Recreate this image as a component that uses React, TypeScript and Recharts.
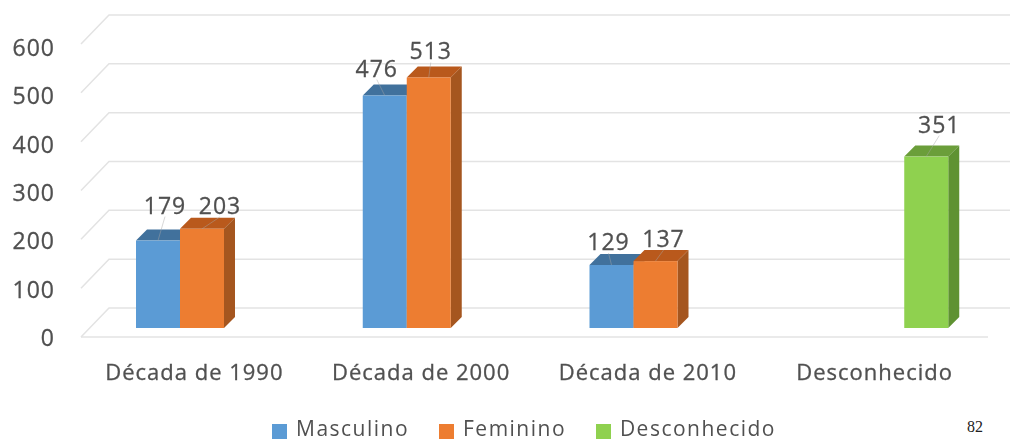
import React from "react"
import { BarChart, Bar, XAxis, YAxis, CartesianGrid, Legend, LabelList, ReferenceLine } from "recharts"

const categories = ["Década de 1990", "Década de 2000", "Década de 2010", "Desconhecido"]
const masculino = [179, 476, 129, null]
const feminino = [203, 513, 137, null]
const desconhecido = [null, null, null, 351]
const yTicks = [0, 100, 200, 300, 400, 500, 600]

const data = categories.map((name, i) => ({
  name,
  Masculino: masculino[i],
  Feminino: feminino[i],
  Desconhecido: desconhecido[i],
}))

const FONT = "'Open Sans', sans-serif"
const TEXT = "#505050"
const GRID = "#e3e3e3"
// the excel 3d look: bars sit off the axis plane, and have a depth
const DEPTH = 11
const SHIFT_X = 8
const SHIFT_Y = -9
const WALL_X = 28
const WALL_Y = 29

const colors = {
  Masculino: { front: "#5b9bd5", top: "#41719c", side: "#41719c" },
  Feminino: { front: "#ed7d31", top: "#b9591c", side: "#a5561f" },
  Desconhecido: { front: "#8fd14f", top: "#6b9e3a", side: "#5f9232" },
}

// hand placed labels, same as the original chart (keyed by the label they move)
const labelNudge: Record<number, number[]> = {
  179: [7, -36],
  476: [-8, -28],
  129: [-3, -24],
  203: [18, -24],
  513: [2, -27],
  137: [8, -23],
  351: [13, -33],
}

// thin stroke thickens the type a bit, the original is a soft scan
const textStyle = { fontFamily: FONT, fill: TEXT, stroke: TEXT, strokeWidth: 0.3, letterSpacing: 1 }

function Box3D(props: any) {
  const { x, y, width, height, palette } = props
  if (!height) return null
  const l = x + SHIFT_X
  const r = l + width
  const t = y + SHIFT_Y
  const b = t + height
  return (
    <g>
      <polygon points={`${l},${t} ${l + DEPTH},${t - DEPTH} ${r + DEPTH},${t - DEPTH} ${r},${t}`} fill={palette.top} />
      <polygon points={`${r},${t} ${r + DEPTH},${t - DEPTH} ${r + DEPTH},${b - DEPTH} ${r},${b}`} fill={palette.side} />
      <rect x={l} y={t} width={width} height={height} fill={palette.front} />
    </g>
  )
}

function WallLine(props: any) {
  const { x1, x2, y1 } = props
  return (
    <polyline
      points={`${x1},${y1} ${x1 + WALL_X},${y1 - WALL_Y} ${x2 + WALL_X},${y1 - WALL_Y}`}
      fill="none"
      stroke={GRID}
      strokeWidth={1.5}
    />
  )
}

function ValueLabel(props: any) {
  const { x, y, width, value } = props
  const nudge = labelNudge[value]
  if (value == null || !nudge) return null
  const cx = x + SHIFT_X + width / 2
  const top = y + SHIFT_Y
  const tx = cx + nudge[0]
  const ty = top + nudge[1]
  return (
    <g>
      <line x1={tx} y1={ty + 12} x2={cx} y2={top} stroke="#a6a6a6" strokeOpacity={0.45} />
      <text x={tx} y={ty} textAnchor="middle" dominantBaseline="central" fontSize={23} style={textStyle}>
        {value}
      </text>
    </g>
  )
}

function YTick(props: any) {
  const { x, y, payload } = props
  // labels run a little tighter than the gridlines in the original
  const squeezed = y + (337 - y) * 0.01
  return (
    <text x={x} y={squeezed} textAnchor="end" dominantBaseline="central" fontSize={23} style={textStyle}>
      {payload.value}
    </text>
  )
}

function XTick(props: any) {
  const { x, y, payload } = props
  return (
    <text x={x} y={y} dy={14} textAnchor="middle" dominantBaseline="central" fontSize={22} style={textStyle}>
      {payload.value}
    </text>
  )
}

function LegendRow({ payload }: any) {
  const widths = [167, 157, 180]
  return (
    <div style={{ display: "flex", fontFamily: FONT, fontSize: 21, letterSpacing: 1.5, color: TEXT, lineHeight: "18px" }}>
      {(payload || []).map((p: any, i: number) => (
        <div key={p.value} style={{ display: "flex", alignItems: "center", width: widths[i] }}>
          <span style={{ width: 15, height: 15, background: p.color, marginRight: 9, position: "relative", top: 3 }} />
          <span>{p.value}</span>
        </div>
      ))}
    </div>
  )
}

export default function App() {
  return (
    <div style={{ position: "absolute", left: 0, top: 0, width: 1010, height: 442, background: "#fff", overflow: "hidden" }}>
      <div style={{ filter: "blur(0.6px)" }}>
        <BarChart
          width={1010}
          height={442}
          data={data}
          barSize={44}
          barGap={0}
          margin={{ top: 44, right: 22, bottom: 75, left: 0 }}
        >
          <CartesianGrid vertical={false} horizontal={(p: any) => <WallLine key={p.key} {...p} />} />
          <ReferenceLine y={0} stroke={GRID} strokeWidth={1.5} />
          <XAxis dataKey="name" height={30} axisLine={false} tickLine={false} tickMargin={14} tick={<XTick />} />
          <YAxis
            width={81}
            domain={[0, 600]}
            ticks={yTicks}
            axisLine={false}
            tickLine={false}
            tickSize={0}
            tickMargin={26}
            tick={<YTick />}
          />
          <Legend
            verticalAlign="middle"
            align="center"
            layout="horizontal"
            itemSorter={null}
            content={<LegendRow />}
            wrapperStyle={{ left: 272, top: 419, width: 560, height: 18 }}
          />
          {(["Masculino", "Feminino", "Desconhecido"] as const).map((key) => (
            <Bar
              key={key}
              dataKey={key}
              fill={colors[key].front}
              isAnimationActive={false}
              shape={(p: any) => <Box3D {...p} palette={colors[key]} />}
            >
              <LabelList dataKey={key} content={<ValueLabel />} />
            </Bar>
          ))}
        </BarChart>
      </div>
      <span style={{ position: "absolute", left: 967, top: 418, fontFamily: "'Liberation Serif', serif", fontSize: 16, color: "#222" }}>82</span>
    </div>
  )
}
